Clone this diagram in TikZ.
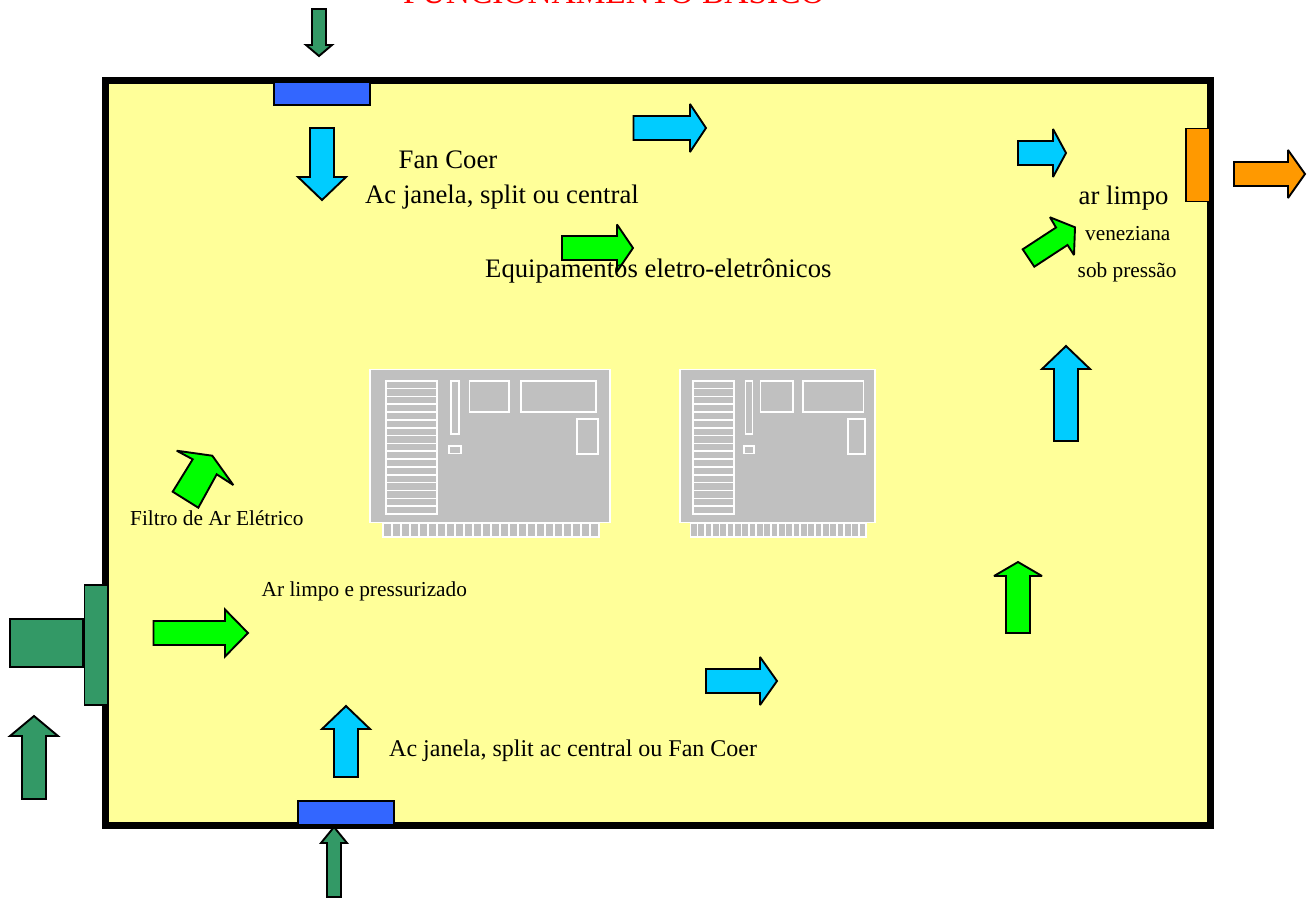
\documentclass[tikz,border=0pt]{standalone}
\usepackage{fontspec}
\setmainfont{Liberation Serif}
\definecolor{wallyellow}{HTML}{FFFF99}
\definecolor{aircyan}{HTML}{00CCFF}
\definecolor{airgreen}{HTML}{00FF00}
\definecolor{darkgr}{HTML}{339966}
\definecolor{ductblue}{HTML}{3366FF}
\definecolor{outorange}{HTML}{FF9900}
\definecolor{boardgray}{HTML}{C0C0C0}
\tikzset{
  blockarrow/.style={draw=black,line width=1.9pt,line join=miter,miter limit=3,fill=#1},
  unitbox/.style={draw=black,line width=1.7pt,fill=#1},
  pcbline/.style={draw=white,line width=1.6pt},
  lbl/.style={anchor=base west,inner sep=0pt,text=black},
  big/.style={lbl,font=\fontsize{26.7}{30}\selectfont},
  small/.style={lbl,font=\fontsize{21.3}{24}\selectfont},
}
% horizontal arrow pointing right: colour, tail x, neck x, tip x, centre y, half shaft, half head
\newcommand{\ArrowH}[7]{\path[blockarrow=#1] (#2,#5-#6) -- (#3,#5-#6) -- (#3,#5-#7) -- (#4,#5) -- (#3,#5+#7) -- (#3,#5+#6) -- (#2,#5+#6) -- cycle;}
% vertical arrow: colour, centre x, tail y, neck y, tip y, half shaft, half head
\newcommand{\ArrowV}[7]{\path[blockarrow=#1] (#2-#6,#3) -- (#2-#6,#4) -- (#2-#7,#4) -- (#2,#5) -- (#2+#7,#4) -- (#2+#6,#4) -- (#2+#6,#3) -- cycle;}
% circuit board drawn in the coordinates of the left board
\newcommand{\Board}{%
  \path[pcbline,fill=boardgray] (370,369.3) rectangle (610,522.3);
  \foreach \k in {0,...,16} {\path[pcbline] (386,{380.7+7.84*\k}) rectangle (436.7,{388.54+7.84*\k});}
  \path[pcbline] (450.7,380.7) rectangle (459,434);
  \path[pcbline] (449,445.7) rectangle (461,453.3);
  \path[pcbline] (469.3,380.7) rectangle (509,411.7);
  \path[pcbline] (521,380.7) rectangle (596,411.7);
  \path[pcbline] (576.7,419) rectangle (597.7,454);
  \path[pcbline,fill=boardgray] (382.7,523.3) rectangle (599,536.7);
  \foreach \k in {1,...,23} {\path[pcbline] ({382.7+9.013*\k},523.3) -- ({382.7+9.013*\k},536.7);}
}
\begin{document}
\begin{tikzpicture}[x=1pt,y=-1pt]
\useasboundingbox (0,0) rectangle (1313,898);
\clip (0,0) rectangle (1313,898);
\fill[white] (0,0) rectangle (1313,898);
% room
\path[draw=black,line width=7pt,fill=wallyellow] (105.5,80.5) rectangle (1210.5,825.5);
% boards
\begin{scope}\Board\end{scope}
\begin{scope}[cm={0.8125,0,0,1,(379.375,0)}]\Board\end{scope}
% units on the walls
\path[unitbox=ductblue] (274,82) rectangle (370,105);
\path[unitbox=ductblue] (298,801) rectangle (394,825);
\path[unitbox=outorange] (1186,128.5) rectangle (1210,201.5);
\path[unitbox=darkgr] (10,619) rectangle (83,667);
\path[unitbox=darkgr] (84.5,585) rectangle (108,705);
% arrows
\ArrowV{darkgr}{319}{9}{45}{56}{7}{13}
\ArrowV{aircyan}{322}{128}{177}{200}{12}{24}
\ArrowH{aircyan}{633.5}{690}{706}{128}{12}{24}
\ArrowH{aircyan}{1018}{1053}{1066}{153}{12}{24}
\ArrowH{outorange}{1234}{1288}{1305}{174}{12}{24}
\ArrowH{airgreen}{562}{617}{633}{248}{12}{23.5}
\path[blockarrow=airgreen] (1022.7,249.3) -- (1056,227.5) -- (1050,217.3) -- (1075,227.3) -- (1074,255) -- (1067.5,245) -- (1034.3,266.7) -- cycle;
\ArrowV{aircyan}{1066}{441}{369}{346}{12}{24}
\ArrowV{airgreen}{1018}{633}{576}{562}{12}{24}
\ArrowH{aircyan}{706}{760}{777}{681}{12}{24}
\ArrowV{aircyan}{346}{777}{729}{706}{12}{24}
\ArrowH{airgreen}{153.5}{225}{248}{633}{12}{23.5}
\path[blockarrow=airgreen] (172.7,491.7) -- (192.7,459.3) -- (176.7,450.7) -- (212.3,455.7) -- (233.3,485) -- (216.7,474.3) -- (198.3,507.7) -- cycle;
\ArrowV{darkgr}{34}{799}{736}{716}{12}{24}
\ArrowV{darkgr}{334}{897}{843}{827}{7}{13}
% texts
\node[lbl,text=red,font=\fontsize{33.4}{36}\selectfont] (title) at (403,3) {FUNCIONAMENTO BÁSICO};
\node[big] (fan) at (398.5,168) {Fan Coer};
\node[big] (acjan) at (365,203) {Ac janela, split ou central};
\node[big] (equip) at (485,277) {Equipamentos eletro-eletrônicos};
\node[big] (arlimpo) at (1078.5,204) {ar limpo};
\node[small] (venez) at (1085,240) {veneziana};
\node[small] (sob) at (1077.5,277) {sob pressão};
\node[small] (filtro) at (130,525) {Filtro de Ar Elétrico};
\node[small] (pressur) at (261.5,596) {Ar limpo e pressurizado};
\node[lbl,font=\fontsize{24}{27}\selectfont] (acbot) at (389,756) {Ac janela, split ac central ou Fan Coer};
\end{tikzpicture}
\end{document}
